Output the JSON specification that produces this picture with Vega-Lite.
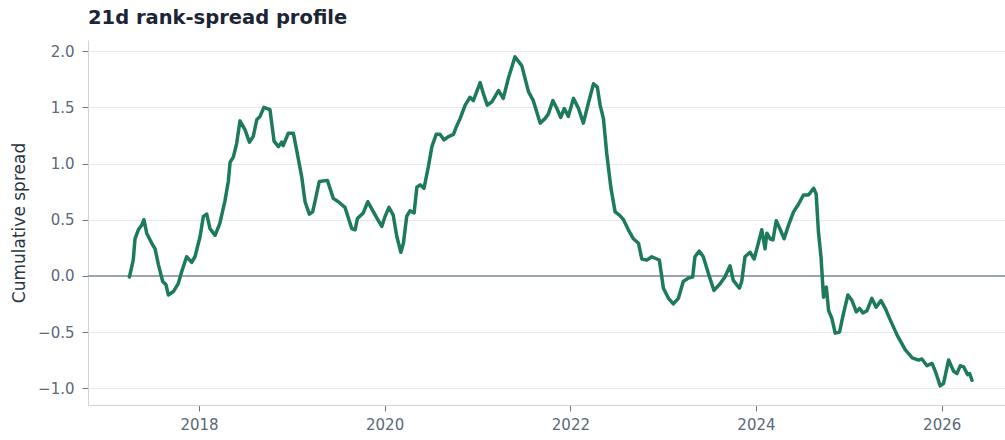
{
  "$schema": "https://vega.github.io/schema/vega-lite/v6.json",
  "autosize": {"type": "none"},
  "width": 917,
  "height": 365,
  "padding": {"left": 88, "top": 40, "right": 0, "bottom": 35},
  "background": "white",
  "title": {
    "text": "21d rank-spread profile",
    "anchor": "start",
    "frame": "group",
    "font": "DejaVu Sans",
    "fontSize": 19.5,
    "fontWeight": "bold",
    "color": "#1c2536",
    "offset": 12
  },
  "config": {
    "view": {"stroke": null},
    "axis": {
      "labelFont": "DejaVu Sans",
      "titleFont": "DejaVu Sans",
      "labelColor": "#5b6877",
      "titleColor": "#2a3442",
      "tickColor": "#6b7785",
      "domainColor": "#cdd4dc",
      "gridColor": "#e4e9ef",
      "labelFontSize": 15,
      "titleFontSize": 17,
      "titleFontWeight": "normal"
    }
  },
  "data": {
    "values": [
      {"date": "2017-04-02", "spread": -0.01},
      {"date": "2017-04-17", "spread": 0.14},
      {"date": "2017-04-24", "spread": 0.33},
      {"date": "2017-05-07", "spread": 0.41},
      {"date": "2017-05-20", "spread": 0.45},
      {"date": "2017-05-29", "spread": 0.50},
      {"date": "2017-06-09", "spread": 0.38},
      {"date": "2017-06-29", "spread": 0.29},
      {"date": "2017-07-12", "spread": 0.24},
      {"date": "2017-07-25", "spread": 0.10},
      {"date": "2017-08-11", "spread": -0.05},
      {"date": "2017-08-24", "spread": -0.08},
      {"date": "2017-09-02", "spread": -0.17},
      {"date": "2017-09-22", "spread": -0.14},
      {"date": "2017-10-11", "spread": -0.07},
      {"date": "2017-10-25", "spread": 0.04},
      {"date": "2017-11-13", "spread": 0.17},
      {"date": "2017-12-03", "spread": 0.12},
      {"date": "2017-12-16", "spread": 0.17},
      {"date": "2018-01-05", "spread": 0.35},
      {"date": "2018-01-18", "spread": 0.53},
      {"date": "2018-01-31", "spread": 0.55},
      {"date": "2018-02-13", "spread": 0.42},
      {"date": "2018-03-05", "spread": 0.36},
      {"date": "2018-03-24", "spread": 0.47},
      {"date": "2018-04-13", "spread": 0.67},
      {"date": "2018-04-26", "spread": 0.84},
      {"date": "2018-05-03", "spread": 1.01},
      {"date": "2018-05-16", "spread": 1.06},
      {"date": "2018-05-29", "spread": 1.18},
      {"date": "2018-06-11", "spread": 1.38},
      {"date": "2018-07-01", "spread": 1.30},
      {"date": "2018-07-18", "spread": 1.19},
      {"date": "2018-08-02", "spread": 1.24},
      {"date": "2018-08-16", "spread": 1.39},
      {"date": "2018-08-29", "spread": 1.42},
      {"date": "2018-09-13", "spread": 1.50},
      {"date": "2018-10-07", "spread": 1.48},
      {"date": "2018-10-23", "spread": 1.20},
      {"date": "2018-11-09", "spread": 1.15},
      {"date": "2018-11-22", "spread": 1.19},
      {"date": "2018-11-28", "spread": 1.16},
      {"date": "2018-12-18", "spread": 1.27},
      {"date": "2019-01-07", "spread": 1.27},
      {"date": "2019-01-20", "spread": 1.12},
      {"date": "2019-02-09", "spread": 0.88},
      {"date": "2019-02-22", "spread": 0.66},
      {"date": "2019-03-11", "spread": 0.55},
      {"date": "2019-03-24", "spread": 0.57},
      {"date": "2019-04-02", "spread": 0.66},
      {"date": "2019-04-19", "spread": 0.84},
      {"date": "2019-05-21", "spread": 0.85},
      {"date": "2019-06-13", "spread": 0.69},
      {"date": "2019-07-03", "spread": 0.66},
      {"date": "2019-07-29", "spread": 0.61},
      {"date": "2019-08-25", "spread": 0.42},
      {"date": "2019-09-07", "spread": 0.41},
      {"date": "2019-09-16", "spread": 0.51},
      {"date": "2019-10-09", "spread": 0.56},
      {"date": "2019-10-27", "spread": 0.66},
      {"date": "2019-11-18", "spread": 0.57},
      {"date": "2019-12-03", "spread": 0.51},
      {"date": "2019-12-21", "spread": 0.44},
      {"date": "2020-01-03", "spread": 0.53},
      {"date": "2020-01-18", "spread": 0.61},
      {"date": "2020-02-04", "spread": 0.54},
      {"date": "2020-02-18", "spread": 0.35},
      {"date": "2020-03-05", "spread": 0.21},
      {"date": "2020-03-15", "spread": 0.29},
      {"date": "2020-03-28", "spread": 0.53},
      {"date": "2020-04-10", "spread": 0.58},
      {"date": "2020-04-26", "spread": 0.56},
      {"date": "2020-05-07", "spread": 0.79},
      {"date": "2020-05-20", "spread": 0.81},
      {"date": "2020-06-04", "spread": 0.78},
      {"date": "2020-06-21", "spread": 0.97},
      {"date": "2020-07-05", "spread": 1.15},
      {"date": "2020-07-22", "spread": 1.26},
      {"date": "2020-08-06", "spread": 1.26},
      {"date": "2020-08-22", "spread": 1.21},
      {"date": "2020-09-08", "spread": 1.24},
      {"date": "2020-09-28", "spread": 1.26},
      {"date": "2020-10-08", "spread": 1.32},
      {"date": "2020-10-24", "spread": 1.40},
      {"date": "2020-11-13", "spread": 1.52},
      {"date": "2020-12-02", "spread": 1.59},
      {"date": "2020-12-15", "spread": 1.56},
      {"date": "2021-01-11", "spread": 1.72},
      {"date": "2021-01-24", "spread": 1.62},
      {"date": "2021-02-08", "spread": 1.52},
      {"date": "2021-02-26", "spread": 1.55},
      {"date": "2021-03-24", "spread": 1.65},
      {"date": "2021-04-12", "spread": 1.58},
      {"date": "2021-05-02", "spread": 1.76},
      {"date": "2021-05-28", "spread": 1.95},
      {"date": "2021-06-24", "spread": 1.87},
      {"date": "2021-07-20", "spread": 1.64},
      {"date": "2021-08-08", "spread": 1.56},
      {"date": "2021-09-04", "spread": 1.36},
      {"date": "2021-09-23", "spread": 1.40},
      {"date": "2021-10-06", "spread": 1.44},
      {"date": "2021-10-24", "spread": 1.56},
      {"date": "2021-11-09", "spread": 1.49},
      {"date": "2021-11-24", "spread": 1.41},
      {"date": "2021-12-08", "spread": 1.49},
      {"date": "2021-12-24", "spread": 1.42},
      {"date": "2022-01-13", "spread": 1.58},
      {"date": "2022-02-02", "spread": 1.49},
      {"date": "2022-02-21", "spread": 1.36},
      {"date": "2022-03-13", "spread": 1.54},
      {"date": "2022-04-02", "spread": 1.71},
      {"date": "2022-04-17", "spread": 1.68},
      {"date": "2022-04-28", "spread": 1.52},
      {"date": "2022-05-11", "spread": 1.40},
      {"date": "2022-05-24", "spread": 1.09},
      {"date": "2022-06-09", "spread": 0.79},
      {"date": "2022-06-26", "spread": 0.57},
      {"date": "2022-07-13", "spread": 0.54},
      {"date": "2022-07-29", "spread": 0.50},
      {"date": "2022-08-17", "spread": 0.41},
      {"date": "2022-09-06", "spread": 0.33},
      {"date": "2022-09-26", "spread": 0.29},
      {"date": "2022-10-09", "spread": 0.15},
      {"date": "2022-10-29", "spread": 0.14},
      {"date": "2022-11-17", "spread": 0.17},
      {"date": "2022-12-07", "spread": 0.15},
      {"date": "2022-12-17", "spread": 0.14},
      {"date": "2023-01-02", "spread": -0.11},
      {"date": "2023-01-22", "spread": -0.20},
      {"date": "2023-02-10", "spread": -0.25},
      {"date": "2023-03-02", "spread": -0.20},
      {"date": "2023-03-21", "spread": -0.05},
      {"date": "2023-04-10", "spread": -0.02},
      {"date": "2023-04-27", "spread": -0.01},
      {"date": "2023-05-06", "spread": 0.17},
      {"date": "2023-05-23", "spread": 0.22},
      {"date": "2023-06-08", "spread": 0.17},
      {"date": "2023-06-28", "spread": 0.02},
      {"date": "2023-07-20", "spread": -0.13},
      {"date": "2023-08-13", "spread": -0.07},
      {"date": "2023-09-01", "spread": -0.01},
      {"date": "2023-09-21", "spread": 0.09},
      {"date": "2023-10-04", "spread": -0.04},
      {"date": "2023-10-28", "spread": -0.11},
      {"date": "2023-11-06", "spread": -0.05},
      {"date": "2023-11-19", "spread": 0.17},
      {"date": "2023-12-09", "spread": 0.21},
      {"date": "2023-12-25", "spread": 0.15},
      {"date": "2024-01-07", "spread": 0.26},
      {"date": "2024-01-24", "spread": 0.41},
      {"date": "2024-02-06", "spread": 0.24},
      {"date": "2024-02-13", "spread": 0.38},
      {"date": "2024-02-26", "spread": 0.33},
      {"date": "2024-03-08", "spread": 0.32},
      {"date": "2024-03-21", "spread": 0.49},
      {"date": "2024-04-06", "spread": 0.41},
      {"date": "2024-04-21", "spread": 0.33},
      {"date": "2024-05-08", "spread": 0.45},
      {"date": "2024-05-28", "spread": 0.57},
      {"date": "2024-06-17", "spread": 0.64},
      {"date": "2024-07-06", "spread": 0.72},
      {"date": "2024-07-26", "spread": 0.72},
      {"date": "2024-08-15", "spread": 0.78},
      {"date": "2024-08-25", "spread": 0.73},
      {"date": "2024-09-03", "spread": 0.39},
      {"date": "2024-09-13", "spread": 0.17},
      {"date": "2024-09-23", "spread": -0.19},
      {"date": "2024-10-04", "spread": -0.10},
      {"date": "2024-10-13", "spread": -0.31},
      {"date": "2024-10-26", "spread": -0.38},
      {"date": "2024-11-08", "spread": -0.51},
      {"date": "2024-11-25", "spread": -0.50},
      {"date": "2024-12-08", "spread": -0.36},
      {"date": "2024-12-28", "spread": -0.17},
      {"date": "2025-01-13", "spread": -0.22},
      {"date": "2025-01-30", "spread": -0.32},
      {"date": "2025-02-12", "spread": -0.29},
      {"date": "2025-02-25", "spread": -0.33},
      {"date": "2025-03-13", "spread": -0.31},
      {"date": "2025-04-01", "spread": -0.20},
      {"date": "2025-04-18", "spread": -0.28},
      {"date": "2025-05-07", "spread": -0.22},
      {"date": "2025-05-24", "spread": -0.29},
      {"date": "2025-06-12", "spread": -0.39},
      {"date": "2025-07-10", "spread": -0.53},
      {"date": "2025-08-11", "spread": -0.66},
      {"date": "2025-09-07", "spread": -0.73},
      {"date": "2025-10-02", "spread": -0.75},
      {"date": "2025-10-15", "spread": -0.74},
      {"date": "2025-11-04", "spread": -0.80},
      {"date": "2025-11-24", "spread": -0.78},
      {"date": "2025-12-07", "spread": -0.85},
      {"date": "2025-12-26", "spread": -0.98},
      {"date": "2026-01-08", "spread": -0.96},
      {"date": "2026-01-28", "spread": -0.75},
      {"date": "2026-02-17", "spread": -0.85},
      {"date": "2026-03-02", "spread": -0.87},
      {"date": "2026-03-15", "spread": -0.80},
      {"date": "2026-03-28", "spread": -0.81},
      {"date": "2026-04-13", "spread": -0.88},
      {"date": "2026-04-21", "spread": -0.87},
      {"date": "2026-04-30", "spread": -0.93}
    ]
  },
  "layer": [
    {
      "mark": {"type": "rule", "color": "#9ba4ae", "strokeWidth": 1.5},
      "encoding": {
        "y": {
          "datum": 0,
          "type": "quantitative",
          "scale": {"domain": [-1.15, 2.1], "nice": false, "zero": false},
          "axis": {
            "title": "Cumulative spread",
            "values": [-1, -0.5, 0, 0.5, 1, 1.5, 2],
            "format": ".1f",
            "grid": true,
            "tickSize": 6,
            "labelPadding": 8,
            "titlePadding": 9
          }
        }
      }
    },
    {
      "mark": {"type": "line", "color": "#1d7a5b", "strokeWidth": 3.5, "strokeJoin": "round", "strokeCap": "round"},
      "encoding": {
        "x": {
          "field": "date",
          "type": "temporal",
          "scale": {"domain": ["2016-10-21", "2026-09-07"]},
          "axis": {
            "title": null,
            "format": "%Y",
            "values": ["2018-01-01", "2020-01-01", "2022-01-01", "2024-01-01", "2026-01-01"],
            "grid": false,
            "tickSize": 6,
            "labelPadding": 6
          }
        },
        "y": {
          "field": "spread",
          "type": "quantitative",
          "scale": {"domain": [-1.15, 2.1], "nice": false, "zero": false},
          "axis": {
            "title": "Cumulative spread",
            "values": [-1, -0.5, 0, 0.5, 1, 1.5, 2],
            "format": ".1f",
            "grid": true,
            "tickSize": 6,
            "labelPadding": 8,
            "titlePadding": 9
          }
        }
      }
    }
  ]
}
